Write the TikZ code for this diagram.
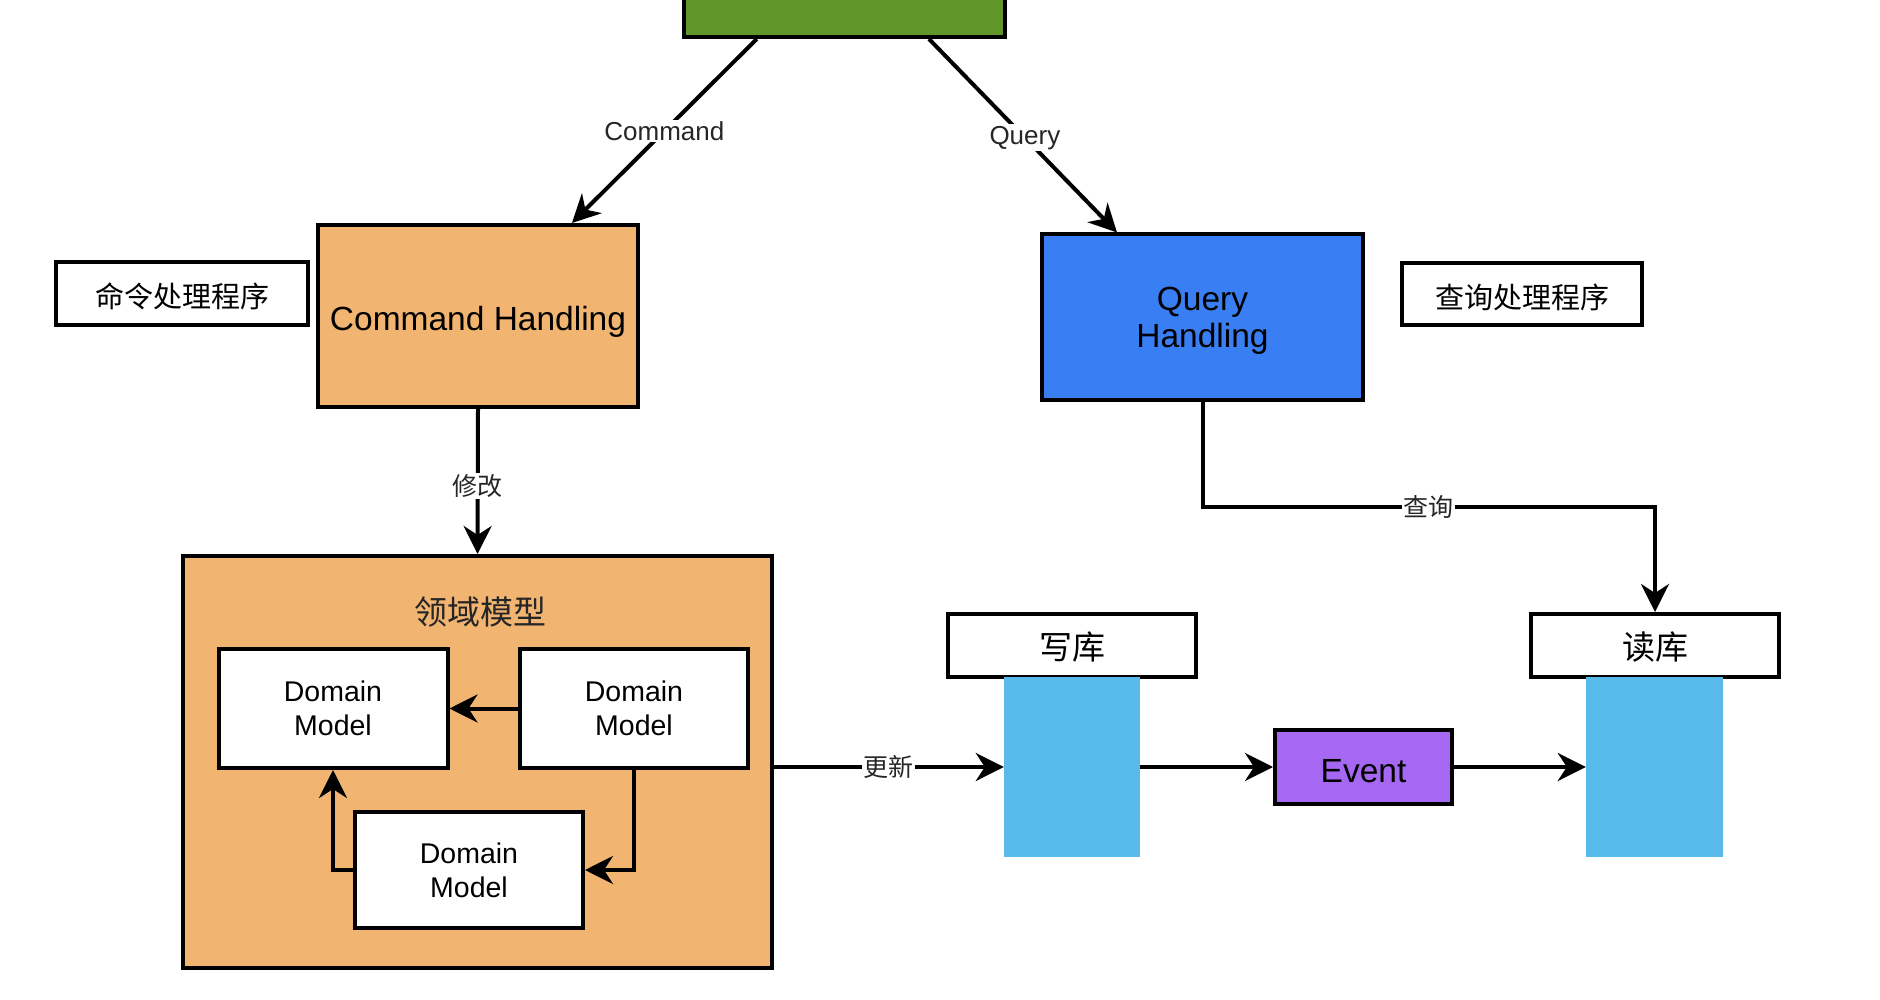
\documentclass[tikz,border=0pt]{standalone}
\usepackage{fontspec}
\setmainfont{Liberation Sans}
\newfontfamily\cjk{Noto Sans CJK SC}
\usetikzlibrary{arrows.meta,calc}
\definecolor{cgreen}{HTML}{60962A}
\definecolor{corange}{HTML}{F1B571}
\definecolor{cblue}{HTML}{397EF2}
\definecolor{cpurple}{HTML}{A668F2}
\definecolor{clight}{HTML}{57BAEB}
\newcommand\lowr[2]{\raisebox{-#1}[\height][\depth]{#2}}
\begin{document}
\begin{tikzpicture}[x=1pt,y=-1pt,
  box/.style={draw=black,line width=4pt,inner sep=0pt,align=center,text=black},
  edge/.style={line width=4pt,draw=black,-{Stealth[length=28pt,width=28pt,inset=9pt]}},
  lbl/.style={fill=white,inner sep=1.5pt,text=black!85,font=\fontsize{26}{30}\selectfont},
  clbl/.style={fill=white,inner sep=1.5pt,text=black!85,font=\cjk\fontsize{25}{30}\selectfont},
  bigtxt/.style={font=\fontsize{33.5}{37}\selectfont},
  dmtxt/.style={font=\fontsize{28.5}{34}\selectfont},
  cjktag/.style={font=\cjk\fontsize{29}{34}\selectfont},
  dbtag/.style={font=\cjk\fontsize{33}{38}\selectfont}]
\path[use as bounding box] (0,0) rectangle (1880,1000);
\clip (0,0) rectangle (1880,1000);

% top green box (cut by the page edge)
\node[box,fill=cgreen,minimum width=321,minimum height=80] (api) at (844.5,-3) {};

% handlers
\node[box,fill=corange,minimum width=320,minimum height=182,bigtxt] (cmdh) at (478,316) {\lowr{6pt}{Command Handling}};
\node[box,fill=white,minimum width=252,minimum height=63,cjktag] (cmdlbl) at (182,293.5) {\lowr{3pt}{命令处理程序}};
\node[box,fill=cblue,minimum width=321,minimum height=165,bigtxt] (qh) at (1202.5,317) {\lowr{5pt}{\begin{tabular}{@{}c@{}}Query\\Handling\end{tabular}}};
\node[box,fill=white,minimum width=240,minimum height=62,cjktag] (qlbl) at (1522,294) {\lowr{3pt}{查询处理程序}};

% domain model group
\node[box,fill=corange,minimum width=589,minimum height=412] (dm) at (477.5,762) {};
\node[dbtag,text=black!85] (dmt) at (480,612) {领域模型};
\node[box,fill=white,minimum width=229,minimum height=119,dmtxt] (dm1) at (333,708.5) {Domain\\Model};
\node[box,fill=white,minimum width=228,minimum height=119,dmtxt] (dm2) at (634,708.5) {Domain\\Model};
\node[box,fill=white,minimum width=228,minimum height=116,dmtxt] (dm3) at (469,870) {Domain\\Model};

% stores and event
\node[box,fill=white,minimum width=248,minimum height=63,dbtag] (wlbl) at (1072,645.5) {\lowr{2pt}{写库}};
\node[fill=clight,draw=none,inner sep=0pt,minimum width=136,minimum height=180] (wdb) at (1072,767) {};
\node[box,fill=cpurple,minimum width=177,minimum height=74,bigtxt] (ev) at (1363.5,767) {\lowr{4pt}{Event}};
\node[box,fill=white,minimum width=248,minimum height=63,dbtag] (rlbl) at (1655,645.5) {\lowr{2pt}{读库}};
\node[fill=clight,draw=none,inner sep=0pt,minimum width=137,minimum height=180] (rdb) at (1654.5,767) {};

% connectors
\draw[edge] ($(api.south west)!0.23!(api.south east)$) -- node[lbl]{Command} ($(cmdh.north west)!0.79!(cmdh.north east)$);
\draw[edge] ($(api.south west)!0.76!(api.south east)$) -- node[lbl,pos=0.51]{Query} ($(qh.north west)!0.237!(qh.north east)$);
\draw[edge] (cmdh.south) -- node[clbl,pos=0.53]{修改} (dm.north);
\coordinate (qy) at (0,507);
\draw[edge] (qh.south) -- (qh.south |- qy) -- node[clbl]{查询} (rlbl.north |- qy) -- (rlbl.north);
\draw[edge] (dm.east |- wdb.west) -- node[clbl]{更新} (wdb.west);
\draw[edge] (wdb.east) -- (ev.west);
\draw[edge] (ev.east) -- (rdb.west);
\draw[edge] (dm2.west) -- (dm1.east);
\draw[edge] (dm2.south) |- (dm3.east);
\draw[edge] (dm3.west) -| (dm1.south);
\end{tikzpicture}
\end{document}
